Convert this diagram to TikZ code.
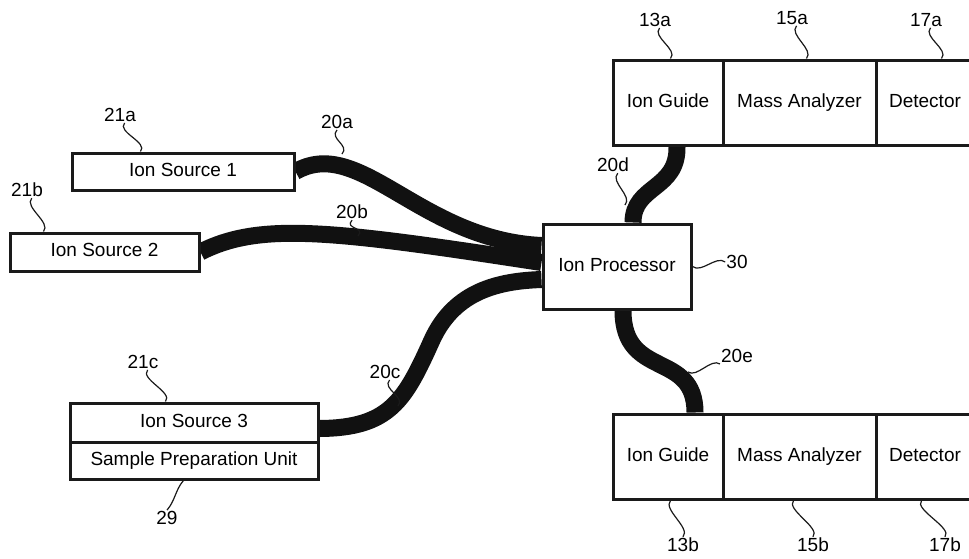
\documentclass[tikz,border=0pt]{standalone}
\usepackage{fontspec}
\setmainfont{Liberation Sans}
\usetikzlibrary{positioning,calc,backgrounds}
\definecolor{cable}{HTML}{111111}
\definecolor{frame}{HTML}{1A1A1A}
\newcommand{\wig}[2]{\draw[lead] (#1) .. controls +(-8,9) and +(8,-9) .. (#2);}

\begin{document}
\begin{tikzpicture}[x=1pt,y=-1pt,
    font=\fontsize{19}{21}\selectfont,
    unit/.style={draw=frame,fill=white,line width=3pt,inner sep=0pt,align=center,
                 text height=13.5pt,text depth=4pt},
    tube/.style={draw=cable,line width=17pt},
    lead/.style={draw=frame,line width=1.2pt},
    tag/.style={inner sep=1pt}]
  \clip (0,0) rectangle (969,558);

  % sources
  \node[unit,minimum width=222pt,minimum height=37pt] (src1) at (183,171.5) {Ion Source 1};
  \node[unit,minimum width=189pt,minimum height=38pt] (src2) at (104.5,252) {Ion Source 2};
  \node[unit,minimum width=248pt,minimum height=39pt] (src3) at (194,422.5) {Ion Source 3};
  \node[unit,minimum width=248pt,minimum height=37pt] (prep) at (194,460.5) {Sample Preparation Unit};

  % processor
  \node[unit,minimum width=148pt,minimum height=85pt] (proc) at (617,266.5) {Ion Processor};

  % upper and lower racks
  \foreach \r/\y in {A/102.5,B/456.5}{
    \node[unit,minimum width=110pt,minimum height=85pt] (guide\r) at (668,\y) {Ion Guide};
    \node[unit,minimum width=153pt,minimum height=85pt] (mass\r) at (799.5,\y) {Mass Analyzer};
    \node[unit,minimum width=98pt,minimum height=85pt] (det\r) at (925,\y) {Detector};
  }

  % tubes
  \begin{scope}[on background layer]
    \draw[tube] (src1.east) .. controls (360,135) and (420,240) .. ([yshift=21pt]proc.west);
    \draw[tube] (src2.east) .. controls (260,222) and (330,230) .. ([yshift=4pt]proc.west);
    \draw[tube] ([yshift=-6pt]src3.east) .. controls (390,428) and (405,400) .. (432,340)
                .. controls (455,290) and (500,281) .. ([yshift=-13pt]proc.west);
    \draw[tube] ([xshift=16pt]proc.north) .. controls (633,185) and (678,190) .. ([xshift=9pt]guideA.south);
    \draw[tube] ([xshift=6pt]proc.south) .. controls (623,380) and (695,350) .. ([xshift=27pt]guideB.north);
  \end{scope}

  % reference numerals
  \node[tag] (l21a) at (120,115) {21a};
  \node[tag] (l21b) at (27,190) {21b};
  \node[tag] (l20a) at (337,122) {20a};
  \node[tag] (l20b) at (352,212) {20b};
  \node[tag] (l21c) at (143,362) {21c};
  \node[tag] (l29) at (167,518) {29};
  \node[tag] (l20c) at (385,372) {20c};
  \node[tag] (l20d) at (613,165) {20d};
  \node[tag] (l30) at (737,262) {30};
  \node[tag] (l20e) at (737,356) {20e};
  \node[tag] (l13a) at (655,20) {13a};
  \node[tag] (l15a) at (792,18) {15a};
  \node[tag] (l17a) at (926,20) {17a};
  \node[tag] (l13b) at (683,545) {13b};
  \node[tag] (l15b) at (813,545) {15b};
  \node[tag] (l17b) at (945,545) {17b};

  \coordinate (t20a) at (342,154);
  \coordinate (t20b) at (358,236);
  \coordinate (t20c) at (398,406);
  \coordinate (t20d) at (625,205);
  \coordinate (t20e) at (688,372);

  % leaders
  \wig{l21a.-60}{[xshift=70pt]src1.north west}
  \wig{l21b.-60}{[xshift=35pt]src2.north west}
  \wig{l20a.south}{t20a}
  \wig{l20b.south}{t20b}
  \wig{l21c.-60}{[xshift=97pt]src3.north west}
  \wig{[xshift=115pt]prep.south west}{l29.north}
  \wig{l20c.-60}{t20c}
  \wig{l20d.-60}{t20d}
  \wig{l13a.-60}{[xshift=59pt]guideA.north west}
  \wig{l15a.-60}{[xshift=85pt]massA.north west}
  \wig{l17a.-60}{[xshift=67pt]detA.north west}
  \wig{[xshift=59pt]guideB.south west}{l13b.north}
  \wig{[xshift=72pt]massB.south west}{l15b.north}
  \wig{[xshift=47pt]detB.south west}{l17b.north}
  \draw[lead] (proc.east) .. controls +(9,7) and +(-9,-7) .. (l30.west);
  \draw[lead] (t20e) .. controls +(9,6) and +(-9,-6) .. (l20e.south west);
\end{tikzpicture}
\end{document}
